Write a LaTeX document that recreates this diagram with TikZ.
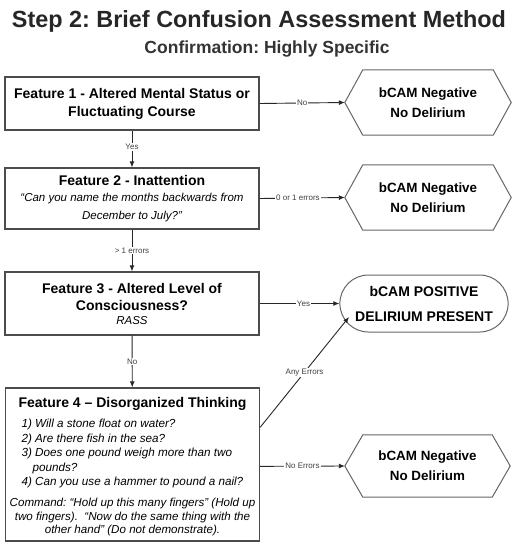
\documentclass[tikz,border=0pt]{standalone}
\usepackage{fontspec}
\setmainfont{Liberation Sans}
\frenchspacing
\usetikzlibrary{arrows.meta,calc,shapes.misc}
\begin{document}
\begin{tikzpicture}[x=1pt,y=-1pt,
  box/.style={draw=black!70,line width=1.3pt,fill=white,minimum width=254pt,inner sep=2pt,font=\fontsize{14}{18}\selectfont\bfseries},
  hexnode/.style={minimum width=166pt,minimum height=65pt,inner sep=0pt,font=\fontsize{13.4}{20}\selectfont\bfseries},
  hexline/.style={draw=black!60,line width=1pt},
  arr/.style={draw=black!85,line width=0.9pt,-{Latex[length=6pt,width=5pt]}},
  lbl/.style={fill=white,inner sep=1pt,text=black!75,font=\fontsize{8}{9}\selectfont}]
\useasboundingbox (0,0) rectangle (511,543);
% titles
\node[font=\fontsize{23.4}{26}\selectfont\bfseries,text=black!85] (title) at (259,21) {Step 2: Brief Confusion Assessment Method};
\node[font=\fontsize{17.5}{20}\selectfont\bfseries,text=black!80] (sub) at (267,49) {Confirmation: Highly Specific};
% feature boxes
\node[box,minimum height=53pt] (f1) at (132,103.5) {\parbox{250pt}{\centering Feature 1 - Altered Mental Status or\\Fluctuating Course}};
\node[box,minimum height=61pt] (f2) at (132,198.5) {\parbox{250pt}{\centering Feature 2 - Inattention\\[-2pt]
  {\fontsize{11.5}{18}\selectfont\mdseries\itshape “Can you name the months backwards from\\December to July?”\par}}};
\node[box,minimum height=63pt] (f3) at (132,303.5) {\parbox{250pt}{\centering Feature 3 - Altered Level of\\[-1pt]Consciousness?\\[-2pt]
  {\fontsize{11.5}{16}\selectfont\mdseries\itshape RASS\par}}};
\node[box,minimum height=153pt] (f4) at (132.5,464.5) {\parbox{250pt}{\vspace*{4pt}\centering Feature 4 – Disorganized Thinking\\[8pt]
  \parbox{222pt}{\fontsize{11.7}{14.5}\selectfont\mdseries\itshape\raggedright
  1) Will a stone float on water?\\
  2) Are there fish in the sea?\\
  3) Does one pound weigh more than two\\
  \hspace*{11pt}pounds?\\
  4) Can you use a hammer to pound a nail?}\\[9pt]
  {\fontsize{11.6}{13.5}\selectfont\mdseries\itshape Command: “Hold up this many fingers” (Hold up\\
  two fingers).\ \ “Now do the same thing with the\\
  other hand” (Do not demonstrate).\par}}};
% outcome nodes
\node[hexnode] (n1) at (428,102.5) {\parbox{160pt}{\centering bCAM Negative\\No Delirium}};
\node[hexnode] (n2) at (428,197.5) {\parbox{160pt}{\centering bCAM Negative\\No Delirium}};
\node[hexnode,minimum height=62pt,minimum width=165pt] (n3) at (427.5,466) {\parbox{160pt}{\centering bCAM Negative\\No Delirium}};
\foreach \n in {n1,n2,n3}{
  \draw[hexline] (\n.west) -- ($(\n.north west)+(18,0)$) -- ($(\n.north east)+(-18,0)$) -- (\n.east)
    -- ($(\n.south east)+(-18,0)$) -- ($(\n.south west)+(18,0)$) -- cycle;
}
\node[rounded rectangle,draw=black!60,line width=1pt,minimum width=158pt,minimum height=57pt,inner sep=0pt,
  font=\fontsize{14}{25}\selectfont\bfseries] (pos) at (424,303.5) {\parbox{156pt}{\centering bCAM POSITIVE\\DELIRIUM PRESENT}};
% connectors
\draw[arr] (f1) -- node[lbl,pos=0.45]{Yes} (f2);
\draw[arr] (f2) -- node[lbl,pos=0.5]{> 1 errors} (f3);
\draw[arr] (f3) -- node[lbl,pos=0.5]{No} (f4);
\draw[arr] (f1.east) -- node[lbl,pos=0.5]{No} (n1.west);
\draw[arr] (f2.east) -- node[lbl,pos=0.45]{0 or 1 errors} (n2.west);
\draw[arr] (f3.east) -- node[lbl,pos=0.55]{Yes} (pos.west);
\coordinate (f4a) at ($(f4.north east)+(0,40)$);
\coordinate (posa) at (349,317);
\draw[arr] (f4a) -- node[lbl,pos=0.5]{Any Errors} (posa);
\coordinate (f4b) at ($(f4.north east)+(0,79)$);
\draw[arr] (f4b) -- node[lbl,pos=0.5]{No Errors} (n3.west);
\end{tikzpicture}
\end{document}
